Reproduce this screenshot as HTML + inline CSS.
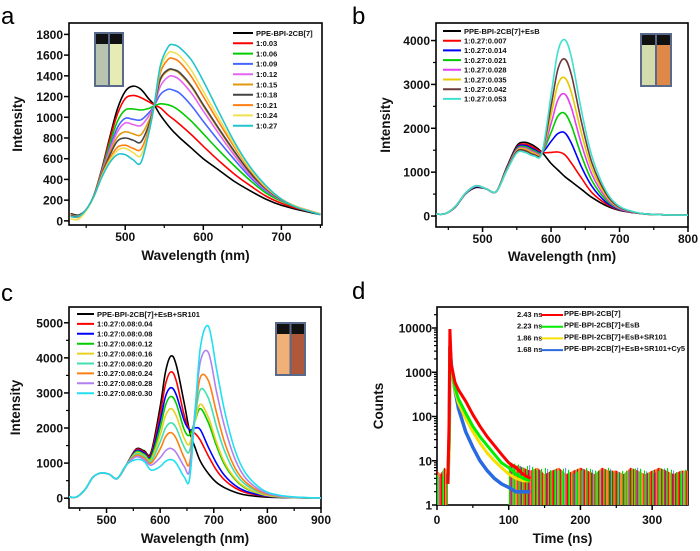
<!DOCTYPE html>
<html><head><meta charset="utf-8">
<style>
html,body{margin:0;padding:0;background:#fff;}
svg{display:block;font-family:"Liberation Sans",Arial,sans-serif;}
.tk{font-size:12px;font-weight:bold;fill:#111;}
.tt{font-size:13.5px;font-weight:bold;fill:#111;}
.lg{font-size:7.5px;font-weight:bold;fill:#111;}
.pl{font-size:24px;fill:#000;}
</style></head>
<body>
<svg id="fig" width="700" height="551" viewBox="0 0 700 551" xmlns="http://www.w3.org/2000/svg">
<defs>
<pattern id="noise-pat" patternUnits="userSpaceOnUse" width="7" height="600">
<rect x="0" y="0" width="7" height="600" fill="#ffffff"/>
<rect x="0" y="0" width="1.5" height="600" fill="#ff0000"/>
<rect x="1.8" y="0" width="1" height="600" fill="#00dd00"/>
<rect x="3.0" y="0" width="1.4" height="600" fill="#ff0000"/>
<rect x="4.6" y="0" width="0.8" height="600" fill="#f0d800"/>
<rect x="5.6" y="0" width="1.2" height="600" fill="#ff0000"/>
</pattern>
<pattern id="noise-pat-g" patternUnits="userSpaceOnUse" width="9" height="600">
<rect x="1" y="0" width="1.2" height="600" fill="#00dd00"/>
<rect x="5" y="0" width="1" height="600" fill="#00dd00"/>
<rect x="7.3" y="0" width="0.8" height="600" fill="#2a6ae0"/>
</pattern>
</defs>
</svg>
<script>
// ---------- Panel a data ----------
const aWl = [430,440,450,460,470,480,490,500,510,520,530,537,545,555,562,570,585,600,620,640,660,680,700,720,750];
const aLabels = ["PPE-BPI-2CB[7]","1:0.03","1:0.06","1:0.09","1:0.12","1:0.15","1:0.18","1:0.21","1:0.24","1:0.27"];
const aColors = ["#000000","#ff0000","#00cc00","#4466ff","#e466f0","#e09a10","#444444","#ff7f10","#f0e050","#22c4cc"];
const aS0 = [70,55,110,250,500,800,1080,1250,1300,1270,1180,1120,1020,920,860,800,700,600,490,380,290,210,150,110,60];
const aS1 = [65,50,105,245,490,780,1030,1180,1210,1190,1150,1120,1090,1020,980,930,830,720,580,450,340,240,170,120,65];
const aS2 = [60,50,105,245,480,740,960,1070,1080,1070,1085,1110,1130,1120,1100,1060,960,840,680,530,390,270,190,130,65];
const aS3 = [55,45,105,240,470,700,900,990,980,975,1040,1110,1220,1270,1260,1230,1110,960,770,590,420,290,200,135,65];
const aS4 = [55,45,105,240,465,680,860,945,930,920,1010,1110,1300,1390,1395,1360,1230,1060,840,630,440,300,200,135,65];
const aS5 = [50,40,105,240,455,650,810,860,840,830,960,1110,1360,1450,1455,1420,1290,1110,880,660,460,310,205,135,65];
const aS6 = [50,40,105,240,450,630,770,800,780,760,920,1110,1370,1460,1460,1430,1300,1120,890,670,465,310,205,135,65];
const aS7 = [45,35,105,240,440,600,710,730,700,690,880,1110,1430,1560,1565,1530,1390,1200,950,710,490,320,210,135,65];
const aS8 = [20,15,100,235,430,580,680,700,660,630,850,1110,1470,1620,1625,1590,1450,1250,990,730,500,330,210,135,65];
const aS9 = [40,40,110,240,420,560,640,640,590,560,840,1110,1500,1680,1700,1670,1550,1350,1050,760,520,340,210,130,60];
const aSeries = [aS0,aS1,aS2,aS3,aS4,aS5,aS6,aS7,aS8,aS9];
const aYTicks = [0,200,400,600,800,1000,1200,1400,1600,1800];
const aXTicks = [500,600,700];

// ---------- Panel b data ----------
const bWl = [430,445,460,475,490,505,520,535,550,562,575,587,600,610,620,630,645,660,680,700,730,760,800];
const bLabels = ["PPE-BPI-2CB[7]+EsB","1:0.27:0.007","1:0.27:0.014","1:0.27:0.021","1:0.27:0.028","1:0.27:0.035","1:0.27:0.042","1:0.27:0.053"];
const bColors = ["#000000","#ff0000","#0000ff","#00cc00","#e040f0","#e8c800","#6b3a3a","#40e0d0"];
const bS0 = [50,50,200,500,650,620,560,1100,1600,1680,1600,1450,1200,1050,900,780,600,420,240,130,60,30,20];
const bS1 = [50,50,210,510,670,620,560,1080,1570,1640,1560,1450,1450,1460,1400,1200,850,530,280,140,60,30,20];
const bS2 = [50,50,210,510,670,620,560,1070,1550,1610,1520,1450,1700,1880,1900,1650,1100,670,320,150,60,30,20];
const bS3 = [50,50,210,510,680,620,560,1060,1530,1580,1490,1450,1900,2280,2340,2050,1350,800,370,160,60,30,20];
const bS4 = [50,50,210,510,680,620,560,1050,1510,1550,1460,1450,2100,2650,2780,2450,1600,940,420,170,60,30,20];
const bS5 = [50,50,215,520,690,625,560,1040,1490,1520,1430,1450,2300,3000,3150,2800,1850,1070,470,190,60,30,20];
const bS6 = [50,50,215,520,690,625,560,1030,1470,1490,1400,1450,2500,3350,3580,3200,2100,1200,520,200,60,30,20];
const bS7 = [50,50,215,520,690,625,560,1020,1440,1450,1370,1450,2750,3750,4020,3600,2350,1350,580,220,65,30,20];
const bSeries = [bS0,bS1,bS2,bS3,bS4,bS5,bS6,bS7];
const bYTicks = [0,1000,2000,3000,4000];
const bXTicks = [500,600,700,800];

// ---------- Panel c data ----------
const cWl = [430,445,460,475,490,505,520,537,555,570,583,600,610,620,630,645,655,665,675,690,705,720,740,760,790,820,860,900];
const cLabels = ["PPE-BPI-2CB[7]+EsB+SR101","1:0.27:0.08:0.04","1:0.27:0.08:0.08","1:0.27:0.08:0.12","1:0.27:0.08:0.16","1:0.27:0.08:0.20","1:0.27:0.08:0.24","1:0.27:0.08:0.28","1:0.27:0.08:0.30"];
const cColors = ["#000000","#ff0000","#0000ff","#00cc00","#e8d020","#40e0b0","#ff7f10","#b080f0","#20e0f0"];
const cHead = [30,40,250,600,720,680,560,950];
const cS0 = cHead.concat([1400,1350,1300,2600,3600,4050,3800,2700,1900,1450,1050,700,450,300,170,90,40,20,10,5]);
const cS1 = cHead.concat([1380,1320,1250,2400,3250,3600,3350,2350,1950,1850,1650,1200,800,520,290,160,70,30,15,5]);
const cS2 = cHead.concat([1350,1290,1200,2200,2900,3150,2950,2200,1950,2000,1950,1450,1000,650,360,200,80,30,15,5]);
const cS3 = cHead.concat([1320,1250,1150,2000,2650,2900,2700,1950,1800,2200,2550,2150,1500,960,530,280,110,40,15,5]);
const cS4 = cHead.concat([1290,1220,1100,1800,2350,2550,2350,1700,1550,2200,2680,2300,1600,1020,560,300,110,40,15,5]);
const cS5 = cHead.concat([1260,1190,1050,1600,2000,2150,2000,1450,1350,2300,3100,2850,2050,1350,720,380,140,50,20,5]);
const cS6 = cHead.concat([1220,1150,1000,1400,1750,1870,1700,1150,1000,2400,3450,3350,2450,1600,850,450,160,60,20,5]);
const cS7 = cHead.concat([1180,1100,940,1150,1350,1420,1300,900,800,2500,3900,4150,3050,2050,1100,560,200,70,20,5]);
const cS8 = cHead.concat([1100,1050,800,900,1050,1100,1000,600,550,2400,4300,4900,3700,2500,1350,700,250,90,25,5]);
const cSeries = [cS0,cS1,cS2,cS3,cS4,cS5,cS6,cS7,cS8];
const cYTicks = [0,1000,2000,3000,4000,5000];
const cXTicks = [500,600,700,800,900];

// ---------- Panel d data ----------
const dT = [15,17,18,20,25,30,40,50,60,70,80,90,100,110,120,130];
const dLabels = ["PPE-BPI-2CB[7]","PPE-BPI-2CB[7]+EsB","PPE-BPI-2CB[7]+EsB+SR101","PPE-BPI-2CB[7]+EsB+SR101+Cy5"];
const dLifetimes = ["2.43 ns","2.23 ns","1.86 ns","1.68 ns"];
const dColors = ["#ff0000","#00ee00","#f8e000","#2a6ae0"];
const dS0 = [3,100,9500,1500,600,400,220,110,60,35,22,14,9,7,5,4];
const dS1 = [3,50,4000,1500,450,250,120,60,35,22,14,9,7,5,4,3.5];
const dS2 = [3,20,3000,1300,400,200,90,45,25,15,10,7,5,4,3.5,3.5];
const dS3 = [3,30,3800,1500,400,150,45,20,10,6,4,3,2.5,2,2,2];
const dSeries = [dS0,dS1,dS2,dS3];
const dTailT = [0,5,10,15,17,40,50,60,70,80,90,100,110,120,130,140,150,160,170,180,190,200,210,220,230,240,250,260,270,280,290,300,310,320,330,340,350];
const dTailRedHi = [6,5,7,6,0,0,0,0,0,0,0,8,8,7,6,7,5,6,7,5,6,7,6,5,7,6,6,5,7,6,5,6,7,6,5,6,6];
const dTailGreenHi = [5,4,5,5,0,0,0,0,0,0,0,7,9,7,8,6,7,6,6,7,5,6,7,6,6,7,5,6,6,7,6,5,6,7,6,5,7];
const dYTicks = [1,10,100,1000,10000];
const dXTicks = [0,100,200,300];

const svg = document.getElementById('fig');
const NS = 'http://www.w3.org/2000/svg';
function el(tag, attrs, parent){ const e=document.createElementNS(NS,tag); for(const k in attrs) e.setAttribute(k,attrs[k]); (parent||svg).appendChild(e); return e; }
function txt(x,y,s,cls,anchor,parent){ const t=el('text',{x:x,y:y,class:cls,'text-anchor':anchor||'start'},parent); t.textContent=s; return t; }
function smooth(pts){
  let d='M'+pts[0][0].toFixed(1)+','+pts[0][1].toFixed(1);
  for(let i=0;i<pts.length-1;i++){
    const p0=pts[Math.max(0,i-1)],p1=pts[i],p2=pts[i+1],p3=pts[Math.min(pts.length-1,i+2)];
    const c1=[p1[0]+(p2[0]-p0[0])/6,p1[1]+(p2[1]-p0[1])/6];
    const c2=[p2[0]-(p3[0]-p1[0])/6,p2[1]-(p3[1]-p1[1])/6];
    d+='C'+c1[0].toFixed(1)+','+c1[1].toFixed(1)+' '+c2[0].toFixed(1)+','+c2[1].toFixed(1)+' '+p2[0].toFixed(1)+','+p2[1].toFixed(1);
  }
  return d;
}

function axes(g, cfg){
  const {L,R,T,B,xs,ys,xTicks,xMinor,yTicks,yMinor,ylab,xlab,yLabX,xLabY,yTitleX,xTitleY}=cfg;
  el('rect',{x:L,y:T,width:R-L,height:B-T,fill:'none',stroke:'#000','stroke-width':1.6},g);
  xTicks.forEach(v=>{ const x=xs(v); el('line',{x1:x,x2:x,y1:B,y2:B+5,stroke:'#000','stroke-width':1.5},g); txt(x,xLabY,String(v),'tk','middle',g); });
  xMinor.forEach(v=>{ const x=xs(v); el('line',{x1:x,x2:x,y1:B,y2:B+3,stroke:'#000','stroke-width':1.2},g); });
  yTicks.forEach(v=>{ const y=ys(v); el('line',{x1:L,x2:L-5,y1:y,y2:y,stroke:'#000','stroke-width':1.5},g); txt(yLabX,y+4.5,String(v),'tk','end',g); });
  yMinor.forEach(v=>{ const y=ys(v); el('line',{x1:L,x2:L-3,y1:y,y2:y,stroke:'#000','stroke-width':1.2},g); });
  const yt=txt(yTitleX,(T+B)/2,ylab,'tt','middle',g); yt.setAttribute('transform','rotate(-90 '+yTitleX+' '+((T+B)/2)+')');
  
  const xt=txt((L+R)/2,xTitleY,xlab,'tt','middle',g);
  
}

function vial(g,x,y,w,h,c1,c2){
  el('rect',{x:x,y:y,width:w,height:h,fill:'#5a6a8a'},g);
  el('rect',{x:x+2,y:y+2,width:w/2-3,height:h-4,fill:c1},g);
  el('rect',{x:x+w/2+1,y:y+2,width:w/2-3,height:h-4,fill:c2},g);
  el('rect',{x:x+2,y:y+2,width:w/2-3,height:10,fill:'#111'},g);
  el('rect',{x:x+w/2+1,y:y+2,width:w/2-3,height:10,fill:'#111'},g);
}

function spectrumPanel(name,letter,lx,ly,cfg,wl,series,colors,labels,leg){
  const g=el('g',{});  
  txt(lx,ly,letter,'pl','start',g);
  const {L,R,T,B,x0,x1,y0,y1}=cfg;
  const xs=v=>L+(v-x0)/(x1-x0)*(R-L);
  const ys=v=>B-(v-y0)/(y1-y0)*(B-T);
  cfg.xs=xs; cfg.ys=ys;
  axes(g,cfg);
  const clip=el('clipPath',{id:'clip-'+name},g); el('rect',{x:L,y:T,width:R-L,height:B-T},clip);
  const sg=el('g',{'clip-path':'url(#clip-'+name+')'},g);
  series.forEach((s,i)=>{
    const p=el('path',{d:smooth(wl.map((w,j)=>[xs(w),ys(s[j])])),fill:'none',stroke:colors[i],'stroke-width':1.6},sg);
    
    
  });
  labels.forEach((lab,i)=>{
    const y=leg.y+i*leg.dy;
    const e=el('line',{x1:leg.x,x2:leg.x+leg.w,y1:y,y2:y,stroke:colors[i],'stroke-width':2},g);
    
    const t=txt(leg.x+leg.w+3,y+2.8,lab,'lg','start',g);
    
    
  });
  vial(g,leg.vx,leg.vy,leg.vw,leg.vh,leg.c1,leg.c2);
}

spectrumPanel('panel-a','a',1,24,
  {L:69,R:322,T:23,B:225,x0:428,x1:752,y0:-40,y1:1910,
   xTicks:aXTicks,xMinor:[450,550,650,750],yTicks:aYTicks,yMinor:[],
   ylab:'Intensity',xlab:'Wavelength (nm)',yLabX:63,xLabY:241,yTitleX:22,xTitleY:260},
  aWl,aSeries,aColors,aLabels,
  {x:233,y:33,dy:10.3,w:20,vx:94,vy:32,vw:30,vh:55,c1:'#b8c4b0',c2:'#e6ecb4'});

spectrumPanel('panel-b','b',352,24,
  {L:436,R:688,T:23,B:227,x0:432,x1:800,y0:-250,y1:4400,
   xTicks:bXTicks,xMinor:[450,550,650,750],yTicks:bYTicks,yMinor:[500,1500,2500,3500],
   ylab:'Intensity',xlab:'Wavelength (nm)',yLabX:430,xLabY:243,yTitleX:390,xTitleY:261},
  bWl,bSeries,bColors,bLabels,
  {x:443,y:31,dy:9.7,w:18,vx:640,vy:33,vw:32,vh:54,c1:'#d4dcac',c2:'#e08848'});

spectrumPanel('panel-c','c',1,301,
  {L:69,R:321,T:307,B:508,x0:430,x1:900,y0:-280,y1:5450,
   xTicks:cXTicks,xMinor:[450,550,650,750,850],yTicks:cYTicks,yMinor:[500,1500,2500,3500,4500],
   ylab:'Intensity',xlab:'Wavelength (nm)',yLabX:63,xLabY:524,yTitleX:20,xTitleY:543},
  cWl,cSeries,cColors,cLabels,
  {x:77,y:314,dy:9.9,w:17,vx:275,vy:322,vw:31,vh:54,c1:'#f0b078',c2:'#b0583a'});

// ---------- Panel d ----------
(function(){
  const g=el('g',{});  
  txt(352,299,'d','pl','start',g);
  const L=437,R=688,T=307,B=505;
  const xs=v=>L+v/350*(R-L);
  const ys=v=>B-Math.log10(Math.max(v,1))*44.25;
  const yMinor=[]; for(let d=1;d<=10000;d*=10) for(let k=2;k<10;k++){ if(d*k<30000) yMinor.push(d*k); }
  axes(g,{L,R,T,B,xs,ys,xTicks:dXTicks,xMinor:[50,150,250],yTicks:dYTicks,yMinor:yMinor,
    ylab:'Counts',xlab:'Time (ns)',yLabX:432,xLabY:524,yTitleX:383,xTitleY:543});
  const clip=el('clipPath',{id:'clip-d'},g); el('rect',{x:L,y:T,width:R-L,height:B-T},clip);
  const sg=el('g',{'clip-path':'url(#clip-d)'},g);
  function band(hi,fill){
    let seg=[],segs=[];
    dTailT.forEach((t,i)=>{ if(hi[i]>0) seg.push([xs(t),ys(hi[i])]); else { if(seg.length) segs.push(seg); seg=[]; } });
    if(seg.length) segs.push(seg);
    segs.forEach(s=>{
      let d='M'+s[0][0].toFixed(1)+','+B;
      s.forEach(p=>{ d+=' L'+p[0].toFixed(1)+','+p[1].toFixed(1); });
      d+=' L'+s[s.length-1][0].toFixed(1)+','+B+' Z';
      const p=el('path',{d:d,fill:fill,stroke:'none'},sg);
      
    });
  }
  band(dTailRedHi,'url(#noise-pat)');
  band(dTailGreenHi,'url(#noise-pat-g)');
  [3,2,1,0].forEach(i=>{
    const s=dSeries[i];
    const p=el('path',{d:'M'+dT.map((t,j)=>xs(t).toFixed(1)+','+ys(s[j]).toFixed(1)).join(' L'),fill:'none',stroke:dColors[i],'stroke-width':i===3?3.5:3},sg);
    
    
  });
  dLabels.forEach((lab,i)=>{
    const y=314+i*11.7;
    txt(517,y+3,dLifetimes[i],'lg','start',g);
    const l=el('line',{x1:541,x2:563,y1:y+1,y2:y+1,stroke:dColors[i],'stroke-width':2},g);
    
    const t=txt(564,y+2,lab,'lg','start',g);
    
    
  });
})();
</script>
</body></html>
